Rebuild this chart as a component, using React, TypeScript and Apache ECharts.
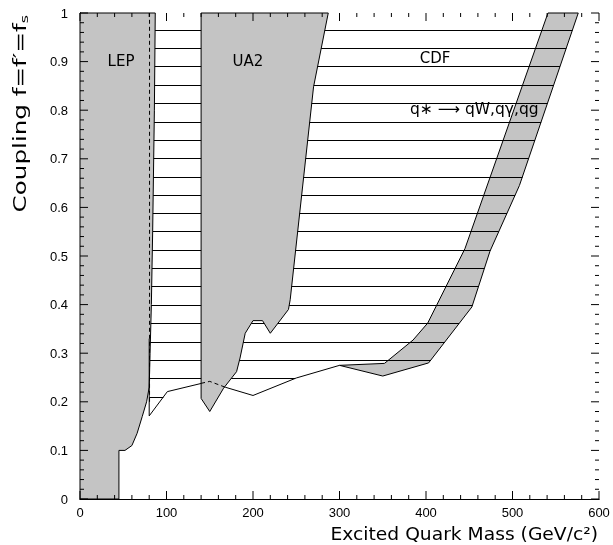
import React, { useEffect, useRef } from "react";
import * as echarts from "echarts";

type Pt = [number, number];

// LEP excluded region (shaded)
const lepRegion: Pt[] = [
  [0, 0], [45, 0], [45, 0.1], [52, 0.1], [60, 0.11], [66, 0.135], [72, 0.17],
  [77, 0.2], [80, 0.23], [81, 0.3], [82.5, 0.4], [84, 0.55], [86, 0.8], [87, 1], [0, 1],
];
const lepDashed: Pt[] = [[80.4, 0.2], [80.4, 1]];

// UA2 excluded region (shaded)
const ua2Region: Pt[] = [
  [140, 1], [287, 1], [270, 0.848], [243, 0.41], [241, 0.39], [220, 0.341], [211, 0.367],
  [200, 0.367], [191, 0.341], [185, 0.29], [181, 0.262], [166, 0.228], [150, 0.18], [140, 0.207],
];

// CDF limit curve (lower edge of the hatched region)
const cdfLimit: Pt[] = [
  [80, 0.171], [101, 0.221], [150, 0.242], [168, 0.23], [200, 0.213], [250, 0.249], [300, 0.275],
];
const cdfLimitUnderUa2: Pt[] = [[140, 0.238], [150, 0.242], [168, 0.23]];
const cdfLeftEdge: Pt[] = [[80, 0.171], [80, 0.33]];

// CDF band (q* -> qW, qγ, qg)
const bandInner: Pt[] = [[300, 0.275], [352, 0.279], [385, 0.327], [402, 0.362], [445, 0.515], [541, 1]];
const bandOuter: Pt[] = [[300, 0.275], [350, 0.253], [403, 0.28], [453, 0.395], [474, 0.51], [508, 0.645], [576, 1]];

// horizontal hatch levels of the CDF excluded region
const hatchLevels = [
  0.21, 0.248, 0.286, 0.323, 0.361, 0.399, 0.437, 0.474, 0.512, 0.55, 0.588,
  0.625, 0.663, 0.701, 0.739, 0.776, 0.814, 0.852, 0.89, 0.927, 0.965,
];

// frame ticks (drawn inward on all four sides)
const xMajorTicks = [0, 100, 200, 300, 400, 500, 600];
const xMinorTicks = [
  20, 40, 60, 80, 120, 140, 160, 180, 220, 240, 260, 280, 320, 340, 360, 380,
  420, 440, 460, 480, 520, 540, 560, 580,
];
const yMajorTicks = [0, 0.1, 0.2, 0.3, 0.4, 0.5, 0.6, 0.7, 0.8, 0.9, 1];
const yMinorTicks = [
  0.02, 0.04, 0.06, 0.08, 0.12, 0.14, 0.16, 0.18, 0.22, 0.24, 0.26, 0.28,
  0.32, 0.34, 0.36, 0.38, 0.42, 0.44, 0.46, 0.48, 0.52, 0.54, 0.56, 0.58,
  0.62, 0.64, 0.66, 0.68, 0.72, 0.74, 0.76, 0.78, 0.82, 0.84, 0.86, 0.88,
  0.92, 0.94, 0.96, 0.98,
];

const SHADE = "#c4c4c4";
const TICK = "#000";

function hatchSegments(boundary: Pt[], y: number): Pt[][] {
  const segs: Pt[][] = [];
  let start: number | null = boundary[0][1] < y ? boundary[0][0] : null;
  for (let i = 0; i < boundary.length - 1; i++) {
    const [x1, y1] = boundary[i];
    const [x2, y2] = boundary[i + 1];
    const b1 = y1 < y;
    const b2 = y2 < y;
    if (b1 !== b2) {
      const xc = x1 + ((y - y1) * (x2 - x1)) / (y2 - y1);
      if (b1 && start !== null) {
        segs.push([[start, y], [xc, y]]);
        start = null;
      } else {
        start = xc;
      }
    }
  }
  return segs;
}

function polygonSeries(pts: Pt[], z: number) {
  return {
    type: "custom",
    coordinateSystem: "cartesian2d",
    xAxisIndex: 0,
    yAxisIndex: 0,
    silent: true,
    z,
    data: [pts[0]],
    renderItem: (_params: any, api: any) => ({
      type: "polygon",
      shape: { points: pts.map((p) => api.coord(p)) },
      style: { fill: SHADE, stroke: "#000", lineWidth: 1 },
    }),
  };
}

function lineSeries(pts: Pt[], z: number, dashed = false) {
  return {
    type: "line",
    xAxisIndex: 0,
    yAxisIndex: 0,
    data: pts,
    symbol: "none",
    silent: true,
    z,
    lineStyle: { color: "#000", width: 1, type: dashed ? [4, 3] : "solid" },
  };
}

function tickSeries() {
  return {
    type: "custom",
    coordinateSystem: "cartesian2d",
    xAxisIndex: 0,
    yAxisIndex: 0,
    silent: true,
    z: 6,
    data: [[300, 0.5]],
    renderItem: (_params: any, api: any) => {
      const children: any[] = [];
      const st = { stroke: TICK, lineWidth: 1, fill: "none" };
      const addX = (v: number, len: number) => {
        const b = api.coord([v, 0]);
        const t = api.coord([v, 1]);
        children.push({ type: "line", shape: { x1: b[0], y1: b[1], x2: b[0], y2: b[1] - len }, style: st });
        children.push({ type: "line", shape: { x1: t[0], y1: t[1], x2: t[0], y2: t[1] + len }, style: st });
      };
      const addY = (v: number, len: number) => {
        const l = api.coord([0, v]);
        const r = api.coord([600, v]);
        children.push({ type: "line", shape: { x1: l[0], y1: l[1], x2: l[0] + len, y2: l[1] }, style: st });
        children.push({ type: "line", shape: { x1: r[0], y1: r[1], x2: r[0] - len, y2: r[1] }, style: st });
      };
      xMajorTicks.forEach((v) => addX(v, 8));
      xMinorTicks.forEach((v) => addX(v, 4));
      yMajorTicks.forEach((v) => addY(v, 8));
      yMinorTicks.forEach((v) => addY(v, 4));
      return { type: "group", children };
    },
  };
}

export default function App() {
  const ref = useRef<HTMLDivElement>(null);

  useEffect(() => {
    if (!ref.current) return;
    const chart = echarts.init(ref.current, undefined, { renderer: "svg" });

    const hatchBoundary: Pt[] = [...cdfLimit, ...bandOuter.slice(1)];
    const hatchData = hatchLevels.flatMap((y) =>
      hatchSegments(hatchBoundary, y).map((coords) => ({ coords }))
    );
    const bandPolygon: Pt[] = [...bandInner, ...bandOuter.slice(1).reverse()];

    const axisBase = {
      type: "value",
      axisLine: { show: true, lineStyle: { color: "#000" } },
      axisTick: { show: false },
      minorTick: { show: false },
      splitLine: { show: false },
    };
    const labelStyle = { color: "#000", fontSize: 13, fontFamily: "Liberation Sans" };

    chart.setOption({
      animation: false,
      grid: { left: 80, right: 14, top: 13, bottom: 46 },
      xAxis: [
        { ...axisBase, min: 0, max: 600, interval: 100, axisLabel: { ...labelStyle, margin: 7 } },
        { ...axisBase, position: "top", min: 0, max: 600, interval: 100, axisLabel: { show: false } },
      ],
      yAxis: [
        { ...axisBase, min: 0, max: 1, interval: 0.1, axisLabel: { ...labelStyle, margin: 12 } },
        { ...axisBase, position: "right", min: 0, max: 1, interval: 0.1, axisLabel: { show: false } },
      ],
      series: [
        polygonSeries(bandPolygon, 1),
        {
          type: "lines",
          coordinateSystem: "cartesian2d",
          xAxisIndex: 0,
          yAxisIndex: 0,
          silent: true,
          z: 2,
          polyline: false,
          lineStyle: { color: "#000", width: 1, opacity: 1 },
          data: hatchData,
        },
        lineSeries(cdfLimit, 2),
        polygonSeries(lepRegion, 3),
        polygonSeries(ua2Region, 3),
        lineSeries(cdfLimitUnderUa2, 4, true),
        lineSeries(lepDashed, 4, true),
        lineSeries(cdfLeftEdge, 4),
        tickSeries(),
      ],
      graphic: [
        {
          type: "text", x: 121, y: 61, z: 20,
          style: { text: "LEP", fontSize: 15, fontFamily: "DejaVu Sans", fill: "#000", align: "center", verticalAlign: "middle" },
        },
        {
          type: "text", x: 248, y: 61, z: 20,
          style: { text: "UA2", fontSize: 15, fontFamily: "DejaVu Sans", fill: "#000", align: "center", verticalAlign: "middle" },
        },
        {
          type: "text", x: 435, y: 58, z: 20,
          style: { text: "CDF", fontSize: 15, fontFamily: "DejaVu Sans", fill: "#000", align: "center", verticalAlign: "middle" },
        },
        {
          type: "text", x: 410, y: 109, z: 20,
          style: { text: "q∗ ⟶ qW,qγ,qg", fontSize: 15.5, fontFamily: "DejaVu Sans", fill: "#000", align: "left", verticalAlign: "middle" },
        },
        {
          type: "text", x: 598, y: 534, z: 20, scaleX: 1.1,
          style: { text: "Excited Quark Mass (GeV/c²)", fontSize: 17, fontFamily: "DejaVu Sans", fill: "#000", align: "right", verticalAlign: "middle" },
        },
        {
          type: "text", x: 20, y: 15, z: 20, rotation: Math.PI / 2, scaleX: 1.45,
          style: {
            text: "Coupling f=f′=f{s|s}",
            fontSize: 17, fontFamily: "DejaVu Sans", fill: "#000", align: "right", verticalAlign: "middle",
            rich: { s: { fontSize: 11, fontFamily: "DejaVu Sans", fill: "#000", padding: [7, 0, 0, 0] } },
          },
        },
      ],
    });

    return () => chart.dispose();
  }, []);

  return <div ref={ref} style={{ position: "fixed", left: 0, top: 0, width: 613, height: 545 }} />;
}
